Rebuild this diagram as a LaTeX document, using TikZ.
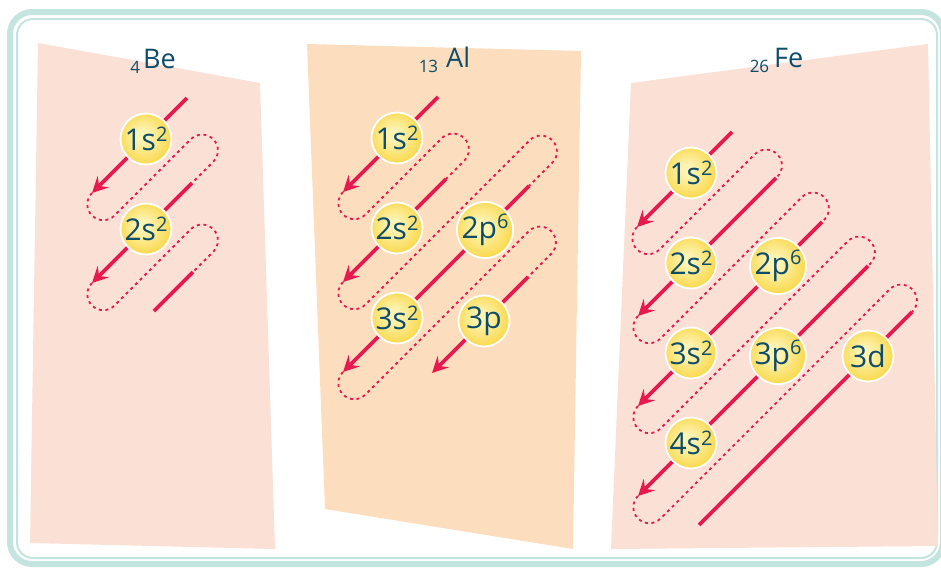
\documentclass[tikz,border=0pt]{standalone}
\usepackage{fontspec}
\setmainfont{Open Sans}
\usetikzlibrary{arrows.meta}
\definecolor{framec}{HTML}{C4E4E0}
\definecolor{salmon}{HTML}{FBE0D5}
\definecolor{peach}{HTML}{FCDEBF}
\definecolor{crimson}{HTML}{E8194F}
\definecolor{ink}{HTML}{0E4C6B}
\definecolor{gA}{HTML}{FDF3B2}
\definecolor{gB}{HTML}{FADA50}
\definecolor{gC}{HTML}{F5C505}
\definecolor{gD}{HTML}{F1B900}
\pgfdeclareradialshading{goldball}{\pgfpoint{-4bp}{4bp}}{color(0bp)=(gA); color(6bp)=(gA); color(26bp)=(gB); color(42bp)=(gC); color(50bp)=(gD)}
\newcommand\supx[1]{\raisebox{9.5pt}{\fontsize{20}{20}\selectfont #1}}
\newcommand\subx[2]{\llap{\raisebox{-5.5pt}{\fontsize{17}{17}\selectfont #1}\hspace{#2}}}
\tikzset{
  orb/.style={circle, minimum size=51pt, inner sep=0pt, draw=white, line width=1.8pt,
    shade, shading=goldball, text=ink, font=\fontsize{30}{30}\selectfont},
  sline/.style={draw=crimson, line width=3.6pt},
  arr/.style={sline, -{Stealth[length=16pt, width=16pt, inset=6pt]}},
  dline/.style={draw=crimson, line width=1.8pt, dash pattern=on 3pt off 3.6pt},
  elem/.style={text=ink, anchor=base west, inner sep=0pt, font=\fontsize{27}{27}\selectfont},
}
\begin{document}
\begin{tikzpicture}[x=1pt, y=-1pt]
\useasboundingbox (0,0) rectangle (941,568);
\fill[white] (0,0) rectangle (941,568);
% frame
\draw[framec, line width=6pt, rounded corners=22pt] (10,12) rectangle (943,564);
\draw[framec, line width=2pt, rounded corners=16pt] (17,19) rectangle (937,558);
% panels
\fill[salmon] (38,43) -- (260,83) -- (275,549) -- (30,543) -- cycle;
\fill[peach] (307,44) -- (581,51) -- (573,549) -- (325,509) -- cycle;
\fill[salmon] (631,83) -- (928,44) -- (938,546) -- (611,549) -- cycle;
% ---------- Be ----------
\coordinate (beS1) at (187,98);  \coordinate (beT1) at (92,193);
\coordinate (beU1) at (190.75,139.25);
\coordinate (beS2) at (192,183); \coordinate (beT2) at (92,283);
\coordinate (beU2) at (190.75,229.25);
\coordinate (beS3) at (193,272); \coordinate (beE3) at (154,311);
\draw[arr] (beS1) -- (beT1);
\draw[arr] (beS2) -- (beT2);
\draw[sline] (beS3) -- (beE3);
\draw[dline] (beT1) arc[start angle=225,end angle=45,radius=15.91] -- (beU1)
  arc[start angle=225,end angle=405,radius=15.91] -- (beS2);
\draw[dline] (beT2) arc[start angle=225,end angle=45,radius=15.91] -- (beU2)
  arc[start angle=225,end angle=405,radius=15.91] -- (beS3);
% ---------- Al ----------
\coordinate (alS1) at (438,97);  \coordinate (alT1) at (343,192);
\coordinate (alU1) at (441.75,138.25);
\coordinate (alS2) at (446,179); \coordinate (alT2) at (343,282);
\coordinate (alU2) at (529.75,140.25);
\coordinate (alS3) at (529,186); \coordinate (alT3) at (343,372);
\coordinate (alU3) at (528.75,231.25);
\coordinate (alS4) at (528,277); \coordinate (alT4) at (432,373);
\draw[arr] (alS1) -- (alT1);
\draw[arr] (alS2) -- (alT2);
\draw[arr] (alS3) -- (alT3);
\draw[arr] (alS4) -- (alT4);
\draw[dline] (alT1) arc[start angle=225,end angle=45,radius=15.91] -- (alU1)
  arc[start angle=225,end angle=405,radius=15.91] -- (alS2);
\draw[dline] (alT2) arc[start angle=225,end angle=45,radius=15.91] -- (alU2)
  arc[start angle=225,end angle=405,radius=15.91] -- (alS3);
\draw[dline] (alT3) arc[start angle=225,end angle=45,radius=15.91] -- (alU3)
  arc[start angle=225,end angle=405,radius=15.91] -- (alS4);
% ---------- Fe ----------
\coordinate (feS1) at (732,132); \coordinate (feT1) at (637,227);
\coordinate (feU1) at (754.75,154.25);
\coordinate (feS2) at (776,178); \coordinate (feT2) at (638,316);
\coordinate (feU2) at (801.75,197.25);
\coordinate (feS3) at (822,222); \coordinate (feT3) at (638,406);
\coordinate (feU3) at (847.75,241.25);
\coordinate (feS4) at (868,266); \coordinate (feT4) at (638,496);
\coordinate (feU4) at (889.75,289.25);
\coordinate (feS5) at (912,312); \coordinate (feE5) at (699,525);
\draw[arr] (feS1) -- (feT1);
\draw[arr] (feS2) -- (feT2);
\draw[arr] (feS3) -- (feT3);
\draw[arr] (feS4) -- (feT4);
\draw[sline] (feS5) -- (feE5);
\draw[dline] (feT1) arc[start angle=225,end angle=45,radius=15.91] -- (feU1)
  arc[start angle=225,end angle=405,radius=15.91] -- (feS2);
\draw[dline] (feT2) arc[start angle=225,end angle=45,radius=15.91] -- (feU2)
  arc[start angle=225,end angle=405,radius=15.91] -- (feS3);
\draw[dline] (feT3) arc[start angle=225,end angle=45,radius=15.91] -- (feU3)
  arc[start angle=225,end angle=405,radius=15.91] -- (feS4);
\draw[dline] (feT4) arc[start angle=225,end angle=45,radius=15.91] -- (feU4)
  arc[start angle=225,end angle=405,radius=15.91] -- (feS5);
% ---------- orbitals ----------
\node[orb] (be1s) at (146,139) {1s\supx{2}};
\node[orb] (be2s) at (146,229) {2s\supx{2}};
\node[orb] (al1s) at (397,138) {1s\supx{2}};
\node[orb] (al2s) at (397,228) {2s\supx{2}};
\node[orb] (al2p) at (485,230) {2p\supx{6}};
\node[orb] (al3s) at (397,318) {3s\supx{2}};
\node[orb] (al3p) at (484,321) {3p};
\node[orb] (fe1s) at (691,173) {1s\supx{2}};
\node[orb] (fe2s) at (691,263) {2s\supx{2}};
\node[orb] (fe2p) at (778,266) {2p\supx{6}};
\node[orb] (fe3s) at (691,353) {3s\supx{2}};
\node[orb] (fe3p) at (778,356) {3p\supx{6}};
\node[orb] (fe3d) at (868,356) {3d};
\node[orb] (fe4s) at (691,443) {4s\supx{2}};
% ---------- element labels ----------
\node[elem] (beL) at (143,68) {\subx{4}{3pt}Be};
\node[elem] (alL) at (446,67) {\subx{13}{8pt}Al};
\node[elem] (feL) at (774,67) {\subx{26}{5pt}Fe};
\end{tikzpicture}
\end{document}
